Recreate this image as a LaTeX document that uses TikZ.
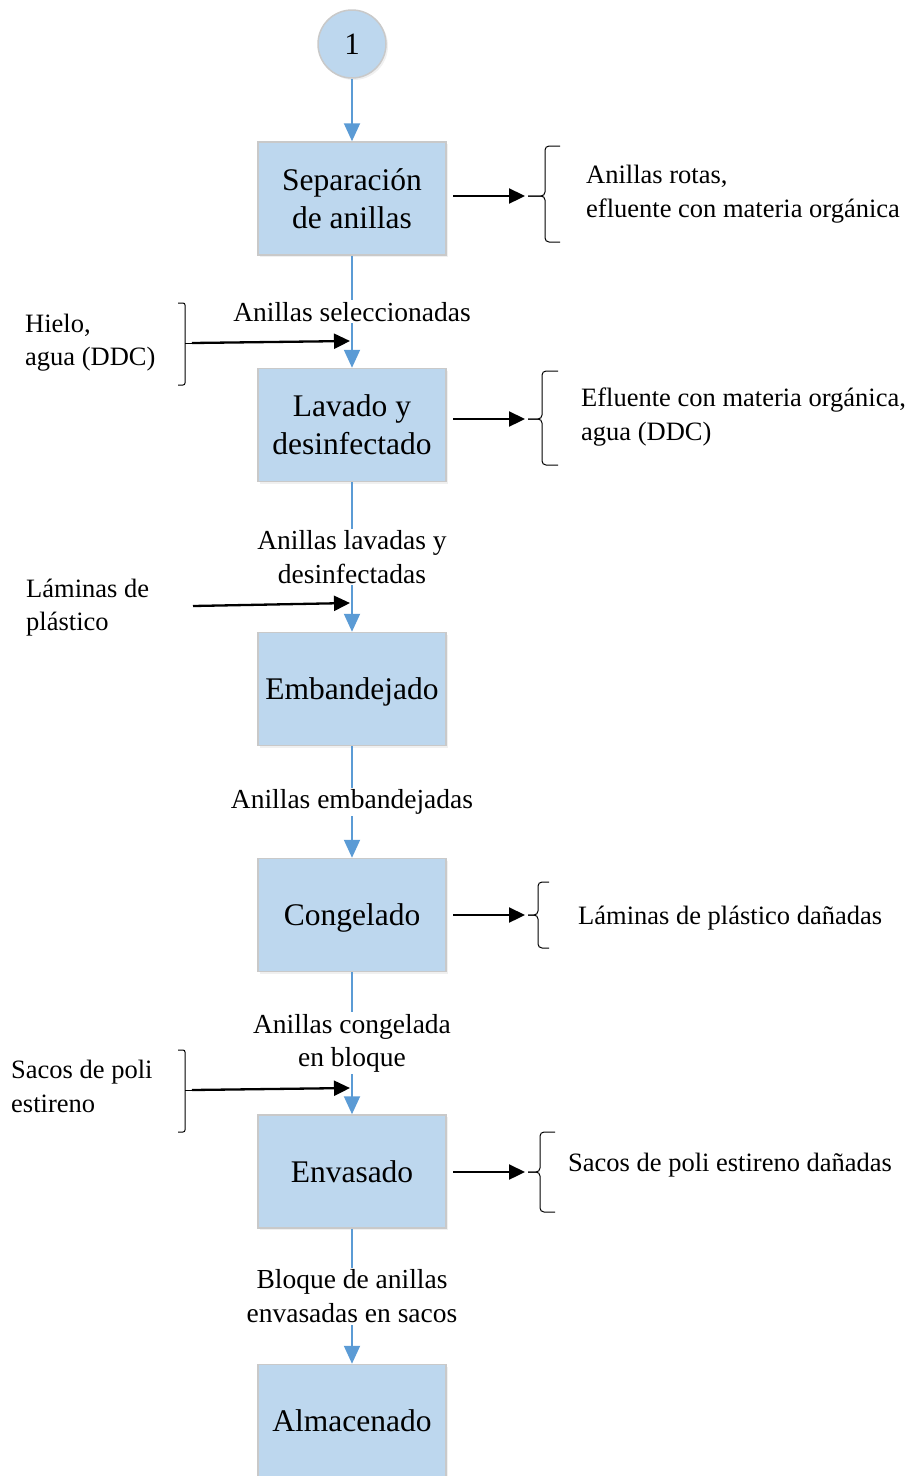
\documentclass[tikz,border=0pt]{standalone}
\usepackage{fontspec}
\setmainfont{Liberation Serif}
\usetikzlibrary{arrows.meta,shadows}

\definecolor{cajaazul}{HTML}{BDD7EE}
\definecolor{bordegris}{HTML}{C9C9C9}
\definecolor{flechaazul}{HTML}{5B9BD5}

\begin{document}
\begin{tikzpicture}[x=1pt,y=-1pt,
      proceso/.style={rectangle, draw=bordegris, line width=1.5pt, fill=cajaazul,
        minimum width=188pt, minimum height=113pt, align=center, text depth=0pt,
        font=\fontsize{31.5}{38}\selectfont,
        drop shadow={opacity=0.12, shadow xshift=2pt, shadow yshift=-2pt}},
      conector/.style={circle, draw=bordegris, line width=1.5pt, fill=cajaazul,
        minimum size=68pt, font=\fontsize{31}{38}\selectfont,
        drop shadow={opacity=0.12, shadow xshift=2pt, shadow yshift=-2pt}},
      flujo/.style={draw=flechaazul, line width=2pt,
        -{Triangle[width=16pt,length=18pt,fill=flechaazul]}},
      etiqueta/.style={fill=white, align=center, inner sep=2pt,
        font=\fontsize{27.5}{33.5}\selectfont},
      lateral/.style={anchor=west, align=left, inner sep=0pt,
        font=\fontsize{26.5}{33.5}\selectfont},
      salida/.style={line width=2.3pt, -{Triangle[width=15pt,length=16pt]}},
      llave/.style={line width=1pt, rounded corners=4pt},
      corchete/.style={line width=1pt, rounded corners=2pt}
    ]
    \useasboundingbox (0,0) rectangle (916,1476);

    % conector y procesos
    \node[conector] (c1) at (352,44) {1};
    \node[proceso] (sep) at (352,198.5) {Separación\\de anillas};
    \node[proceso] (lav) at (352,425) {Lavado y\\desinfectado};
    \node[proceso] (emb) at (352,689) {Embandejado};
    \node[proceso] (cong) at (352,915) {Congelado};
    \node[proceso] (env) at (352,1171.5) {Envasado};
    \node[proceso] (alm) at (352,1421) {Almacenado};

    % flujo principal
    \draw[flujo] (c1) -- (sep);
    \draw[flujo] (sep) -- node[etiqueta] {Anillas seleccionadas} (lav);
    \draw[flujo] (lav) -- node[etiqueta] {Anillas lavadas y\\desinfectadas} (emb);
    \draw[flujo] (emb) -- node[etiqueta] {Anillas embandejadas} (cong);
    \draw[flujo] (cong) -- node[etiqueta] {Anillas congelada\\en bloque} (env);
    \draw[flujo] (env) -- node[etiqueta] {Bloque de anillas\\envasadas en sacos} (alm);

    % entradas
    \node[lateral] (hielo) at (25,342.5) {Hielo,\\agua (DDC)};
    \draw[corchete] (178,303) -- (185,303) -- (185,385) -- (178,385);
    \draw[corchete] (185,343) -- (192,343);
    \coordinate (hielo-pt) at (192,343);
    \coordinate (hielo-fin) at (350,341);
    \draw[salida] (hielo-pt) -- (hielo-fin);

    \node[lateral] (laminas) at (26,607.5) {Láminas de\\plástico};
    \coordinate (laminas-pt) at (193,606);
    \coordinate (laminas-fin) at (350,603);
    \draw[salida] (laminas-pt) -- (laminas-fin);

    \node[lateral] (sacos) at (11,1086.5) {Sacos de poli\\estireno};
    \draw[corchete] (178,1050) -- (185,1050) -- (185,1132) -- (178,1132);
    \draw[corchete] (185,1090) -- (192,1090);
    \coordinate (sacos-pt) at (192,1090);
    \coordinate (sacos-fin) at (350,1088);
    \draw[salida] (sacos-pt) -- (sacos-fin);

    % salidas
    \coordinate (sep-out) at (453,196);
    \coordinate (sep-llave) at (525,196);
    \draw[salida] (sep-out) -- (sep-llave);
    \draw[llave] (560,146) -- (545,146) -- (545,196) -- (528,196);
    \draw[llave] (560,242) -- (545,242) -- (545,196) -- (528,196);
    \node[lateral] (residuo1) at (586,194) {Anillas rotas,\\efluente con materia orgánica};

    \coordinate (lav-out) at (453,419);
    \coordinate (lav-llave) at (525,419);
    \draw[salida] (lav-out) -- (lav-llave);
    \draw[llave] (558,371) -- (542,371) -- (542,419) -- (528,419);
    \draw[llave] (558,465) -- (542,465) -- (542,419) -- (528,419);
    \node[lateral] (residuo2) at (581,417) {Efluente con materia orgánica,\\agua (DDC)};

    \coordinate (cong-out) at (453,915);
    \coordinate (cong-llave) at (525,915);
    \draw[salida] (cong-out) -- (cong-llave);
    \draw[llave] (549,882) -- (538,882) -- (538,915) -- (528,915);
    \draw[llave] (549,948) -- (538,948) -- (538,915) -- (528,915);
    \node[lateral] (residuo4) at (578,918) {Láminas de plástico dañadas};

    \coordinate (env-out) at (453,1172);
    \coordinate (env-llave) at (525,1172);
    \draw[salida] (env-out) -- (env-llave);
    \draw[llave] (555,1132) -- (540,1132) -- (540,1172) -- (528,1172);
    \draw[llave] (555,1212) -- (540,1212) -- (540,1172) -- (528,1172);
    \node[lateral] (residuo5) at (568,1165) {Sacos de poli estireno dañadas};
\end{tikzpicture}
\end{document}
